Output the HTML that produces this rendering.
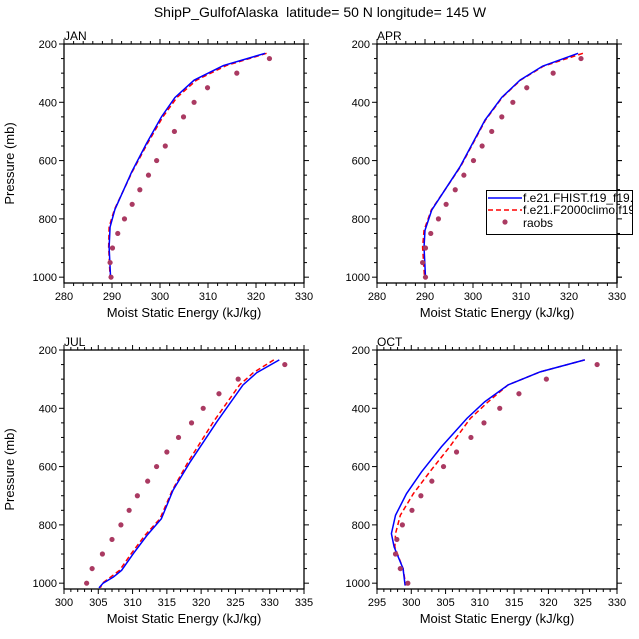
<!DOCTYPE html>
<html><head><meta charset="utf-8"><style>
body{margin:0;background:#fff}
svg{display:block;font-family:"Liberation Sans",Arial,sans-serif}
</style></head><body>
<svg id="c" width="639" height="639" viewBox="0 0 639 639">
<text x="320" y="17" text-anchor="middle" font-size="14" style="white-space:pre">ShipP_GulfofAlaska  latitude= 50 N longitude= 145 W</text>
</svg>
<script>
// ---- data ----
const rawLevels=[250,300,350,400,450,500,550,600,650,700,750,800,850,900,950,1000];
const janObs=[322.8,316.0,309.9,307.1,304.9,303.0,301.1,299.3,297.6,295.8,294.2,292.6,291.2,290.1,289.6,289.8];
const janP=[232,274,324,384,450,541,639,768,828,897,1000];
const janHist=[321.9,313.2,307.1,303.1,300.3,297.2,294.1,290.6,289.6,289.4,289.7];
const janClim=[322.2,313.8,307.6,303.5,300.6,297.4,294.2,290.5,289.4,289.3,289.6];
const aprObs=[322.5,316.7,311.2,308.3,306.0,303.9,301.9,300.1,298.1,296.3,294.4,292.8,291.2,290.1,289.5,290.1];
const aprP=[232,276,324,383,461,621,770,839,897,1000];
const aprHist=[321.9,314.5,309.8,306.0,302.5,297.3,291.4,290.0,289.8,290.1];
const aprClim=[322.9,314.7,309.9,306.1,302.6,297.4,291.3,289.8,289.5,289.9];
const julObs=[332.2,325.4,322.6,320.3,318.6,316.7,315.0,313.5,312.2,310.7,309.5,308.3,307.0,305.6,304.1,303.3];
const julP=[234,278,320,446,584,681,779,836,899,956,979,1000,1016];
const julHist=[331.4,328.1,326.1,322.3,318.4,315.9,314.2,312.1,310.1,308.4,307.2,305.7,305.1];
const julClim=[330.6,327.6,325.6,321.8,318.1,315.8,314.0,311.8,309.8,308.1,306.8,305.6,305.3];
const octObs=[327.1,319.7,315.7,312.9,310.6,308.7,306.6,304.7,303.0,301.4,300.1,298.7,297.9,297.7,298.4,299.5];
const octP=[234,275,320,378,435,532,618,693,767,830,876,950,1008];
const octHist=[325.3,318.8,314.1,310.7,308.1,304.4,301.5,299.3,297.7,297.1,297.5,298.8,299.1];
const octClim=[325.3,318.8,314.1,311.2,308.6,305.6,302.7,300.3,298.4,297.7,297.6,298.8,299.2];
const panels=[
 {name:"JAN",x0:64,y0:44,xmin:280,xmax:330,major:10,minor:2,p:janP,h:janHist,c:janClim,o:janObs},
 {name:"APR",x0:377,y0:44,xmin:280,xmax:330,major:10,minor:2,p:aprP,h:aprHist,c:aprClim,o:aprObs},
 {name:"JUL",x0:64,y0:350,xmin:300,xmax:335,major:5,minor:1,p:julP,h:julHist,c:julClim,o:julObs},
 {name:"OCT",x0:377,y0:350,xmin:295,xmax:330,major:5,minor:1,p:octP,h:octHist,c:octClim,o:octObs}
];
const NS="http://www.w3.org/2000/svg";
const svg=document.getElementById('c');
function mk(tag,attrs,parent,text){const e=document.createElementNS(NS,tag);for(const k in attrs)e.setAttribute(k,attrs[k]);if(text!==undefined)e.textContent=text;(parent||svg).appendChild(e);return e;}
const W=240,H=239,PMIN=200,PMAX=1020;
function frame(P,g){
  mk('rect',{x:P.x0,y:P.y0,width:W,height:H,fill:'none',stroke:'#000','stroke-width':1.3},g);
}
panels.forEach(P=>{
  const g=mk('g',{});
  
  
  const xs=v=>P.x0+(v-P.xmin)/(P.xmax-P.xmin)*W;
  const ys=p=>P.y0+(p-PMIN)/(PMAX-PMIN)*H;
  const t=mk('text',{x:P.x0,y:P.y0-4,'font-size':12},g,P.name);
  
  
  for(let v=P.xmin;v<=P.xmax+1e-6;v+=P.minor){
    const maj=Math.abs((v-P.xmin)%P.major)<1e-6||Math.abs((v-P.xmin)%P.major-P.major)<1e-6;
    const L=maj?5:3,x=xs(v);
    mk('line',{x1:x,x2:x,y1:P.y0+H,y2:P.y0+H+L,stroke:'#000'},g);
    mk('line',{x1:x,x2:x,y1:P.y0,y2:P.y0-L,stroke:'#000'},g);
    if(maj){const l=mk('text',{x:x,y:P.y0+H+17,'font-size':11,'text-anchor':'middle'},g,String(v));
      
      }
  }
  for(let p=200;p<=1000;p+=50){
    const maj=p%200===0,L=maj?5:3,y=ys(p);
    mk('line',{x1:P.x0,x2:P.x0-L,y1:y,y2:y,stroke:'#000'},g);
    mk('line',{x1:P.x0+W,x2:P.x0+W+L,y1:y,y2:y,stroke:'#000'},g);
    if(maj){const l=mk('text',{x:P.x0-7,y:y+4,'font-size':11,'text-anchor':'end'},g,String(p));
      
      }
  }
  const xl=mk('text',{x:P.x0+W/2,y:P.y0+H+34,'font-size':13,'text-anchor':'middle'},g,'Moist Static Energy (kJ/kg)');
  
  
  if(P.x0<100){const yl=mk('text',{x:0,y:0,'font-size':13,'text-anchor':'middle',transform:`translate(14,${P.y0+H/2}) rotate(-90)`},g,'Pressure (mb)');
    
    }
  const ptsC=P.c.map((v,i)=>xs(v)+','+ys(P.p[i])).join(' ');
  const lc=mk('polyline',{points:ptsC,fill:'none',stroke:'#ff0000','stroke-width':1.5,'stroke-dasharray':'5,3'},g);
  
  
  const ptsH=P.h.map((v,i)=>xs(v)+','+ys(P.p[i])).join(' ');
  const lh=mk('polyline',{points:ptsH,fill:'none',stroke:'#0000ff','stroke-width':1.5},g);
  
  
  P.o.forEach((v,i)=>{
    const d=mk('circle',{cx:xs(v),cy:ys(rawLevels[i]),r:2.6,fill:'#aa3a62'},g);
    
    
  });
  frame(P,g);
});
const lg=mk('g',{});


mk('rect',{x:486.5,y:190.5,width:146,height:44,fill:'#fff',stroke:'#000','stroke-width':1},lg);
mk('clipPath',{id:'lc'},lg);
mk('rect',{x:486,y:190,width:146,height:44},document.getElementById('lc'));
const lgi=mk('g',{'clip-path':'url(#lc)'},lg);
mk('line',{x1:488,x2:522,y1:198,y2:198,stroke:'#0000ff','stroke-width':1.5},lgi);
const e1=mk('text',{x:523,y:202,'font-size':12},lgi,'f.e21.FHIST.f19_f19.001');


mk('line',{x1:488,x2:522,y1:210,y2:210,stroke:'#ff0000','stroke-width':1.5,'stroke-dasharray':'5,3'},lgi);
const e2=mk('text',{x:523,y:214,'font-size':12},lgi,'f.e21.F2000climo.f19_f19.001');


mk('circle',{cx:505,cy:222,r:2.6,fill:'#aa3a62'},lgi);
const e3=mk('text',{x:523,y:227,'font-size':12},lgi,'raobs');


mk('line',{x1:617,x2:617,y1:44,y2:283,stroke:'#000','stroke-width':1.3});
for(let p=200;p<=1000;p+=50){const y=44+(p-200)/820*239,L=p%200===0?5:3;mk('line',{x1:617,x2:617+L,y1:y,y2:y,stroke:'#000'});}
</script>
</body></html>
